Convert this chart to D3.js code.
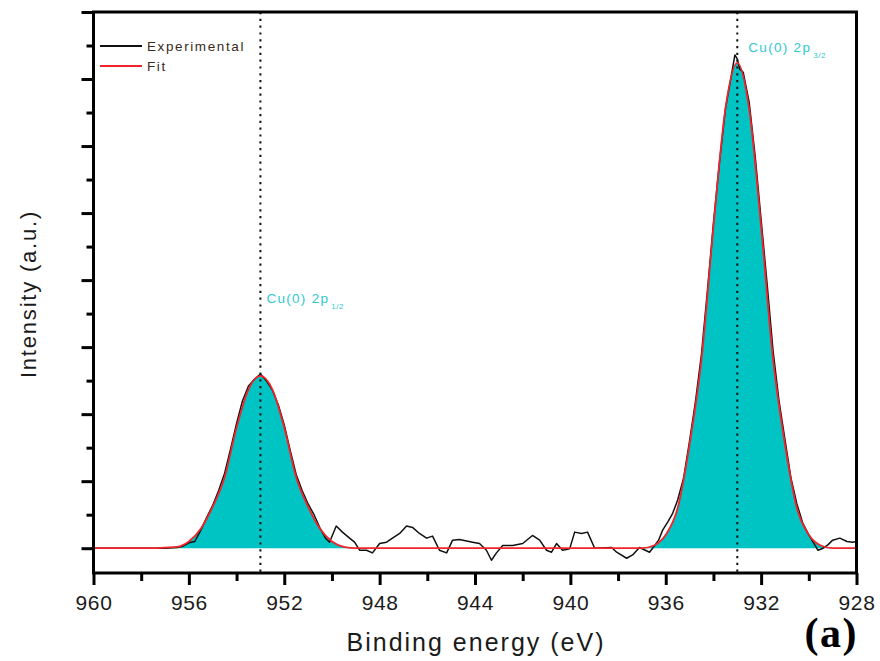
<!DOCTYPE html>
<html>
<head>
<meta charset="utf-8">
<script src="https://cdn.jsdelivr.net/npm/d3@7/dist/d3.min.js"></script>
<style>
  html, body { margin: 0; padding: 0; background: #ffffff; }
  svg { display: block; }
</style>
</head>
<body>
<svg id="chart" width="880" height="661"></svg>
<script>
// Cu 2p XPS spectrum: measured counts and fitted envelope (arbitrary units)
const xMajorTicks = [960, 956, 952, 948, 944, 940, 936, 932, 928];
const xMinorTicks = [958, 954, 950, 946, 942, 938, 934, 930];
const yMajorTicks = [0, 1, 2, 3, 4, 5, 6, 7, 8];
const yMinorTicks = [0.5, 1.5, 2.5, 3.5, 4.5, 5.5, 6.5, 7.5];

const peakCenters = [953, 933];
const peakNames = ["1/2", "3/2"];

const fitEnergy = [960, 957.5, 957, 956.5, 956, 955.5, 955, 954.5, 954, 953.5, 953,
  952.5, 952, 951.5, 951, 950.5, 950, 949.5, 949, 937.5, 937, 936.5, 936, 935.5,
  935, 934.5, 934, 933.5, 933, 932.5, 932, 931.5, 931, 930.5, 930, 929.5, 929, 928.5, 928];
const fitIntensity = [0, 0, 0.01, 0.02, 0.10, 0.29, 0.62, 1.06, 1.80, 2.37, 2.57,
  2.37, 1.80, 1.06, 0.62, 0.29, 0.10, 0.02, 0, 0, 0, 0.04, 0.20, 0.60,
  1.55, 2.82, 4.80, 6.55, 7.24, 6.55, 4.80, 2.82, 1.55, 0.60, 0.20, 0.04, 0, 0, 0];

const expEnergy = [960, 957, 956.5, 956.25, 956, 955.75, 955.5, 955.25, 955, 954.75,
  954.5, 954.25, 954, 953.75, 953.5, 953.25, 953, 952.75, 952.5, 952.25, 952,
  951.75, 951.5, 951.25, 951, 950.75, 950.5, 950.25, 950.1, 949.82, 949.56, 949.26,
  949.05, 948.84, 948.55, 948.3, 948, 947.71, 947.46, 947.16, 946.87, 946.62, 946.33,
  946.03, 945.78, 945.49, 945.19, 944.94, 944.65, 944.1, 943.81, 943.52, 943.31,
  943.1, 942.84, 942.42, 942, 941.59, 941.29, 941, 940.79, 940.58, 940.33, 940.03,
  939.82, 939.53, 939.28, 938.98, 938.27, 938.06, 937.64, 937.39, 937.1, 936.68,
  936.55, 936.3, 936.13, 935.9, 935.71, 935.5, 935.25, 935, 934.75, 934.5, 934.25,
  934, 933.75, 933.5, 933.25, 933.1, 933, 932.9, 932.75, 932.5, 932.25, 932, 931.75,
  931.5, 931.25, 931, 930.75, 930.5, 930.25, 930, 929.8, 929.62, 929.4, 929.2, 929,
  928.7, 928.4, 928.16, 928];
const expIntensity = [0, 0, 0.01, 0.03, 0.08, 0.10, 0.27, 0.46, 0.64, 0.86,
  1.12, 1.48, 1.86, 2.20, 2.42, 2.52, 2.60, 2.50, 2.36, 2.14, 1.84,
  1.46, 1.10, 0.86, 0.66, 0.50, 0.30, 0.14, 0.09, 0.33, 0.24, 0.15,
  0.09, -0.03, -0.03, -0.07, 0.07, 0.09, 0.15, 0.22, 0.33, 0.31, 0.22,
  0.15, 0.18, -0.03, -0.07, 0.12, 0.13, 0.09, 0.07, -0.03, -0.18,
  -0.07, 0.04, 0.04, 0.07, 0.19, 0.12, -0.03, -0.06, 0.07, -0.03, -0.01,
  0.24, 0.22, 0.24, 0.0, 0.01, -0.06, -0.15, -0.10, 0.01, -0.06,
  0.0, 0.12, 0.27, 0.40, 0.52, 0.72, 1.05, 1.60, 2.20, 2.90, 3.85,
  4.85, 5.75, 6.55, 7.05, 7.36, 7.30, 7.15, 7.10, 6.65, 5.85, 4.90, 3.95,
  2.95, 2.20, 1.62, 1.05, 0.66, 0.37, 0.20, 0.08, -0.03, 0.0, 0.05, 0.12,
  0.15, 0.10, 0.09, 0.10];

const legendLabels = ["Experimental", "Fit"];

const svg = d3.select("#chart");
const W = 880, H = 661;
const plot = { left: 93.5, right: 856.5, top: 12, bottom: 573 };

const x = d3.scaleLinear().domain([960, 928]).range([plot.left, plot.right]);
const y = d3.scaleLinear().domain([-0.37, 8]).range([plot.bottom, plot.top]);

const fitData = fitEnergy.map((e, i) => ({ e, v: fitIntensity[i] }));
const expData = expEnergy.map((e, i) => ({ e, v: expIntensity[i] }));

const CYAN = "#00c3c3";
const RED = "#f2232a";
const LABEL = "#2fc9cc";
const INK = "#1b1b1b";

// filled component under the fitted envelope
svg.append("path")
  .datum(fitData)
  .attr("fill", CYAN)
  .attr("d", d3.area().x(d => x(d.e)).y0(y(0)).y1(d => y(d.v)).curve(d3.curveMonotoneX));

// measured spectrum
svg.append("path")
  .datum(expData)
  .attr("fill", "none")
  .attr("stroke", "#111")
  .attr("stroke-width", 1.5)
  .attr("stroke-linejoin", "round")
  .attr("d", d3.line().x(d => x(d.e)).y(d => y(d.v)));

// fitted envelope
svg.append("path")
  .datum(fitData)
  .attr("fill", "none")
  .attr("stroke", RED)
  .attr("stroke-width", 1.8)
  .attr("d", d3.line().x(d => x(d.e)).y(d => y(d.v)).curve(d3.curveMonotoneX));

// peak position markers
svg.selectAll("line.peak")
  .data(peakCenters)
  .join("line")
  .attr("class", "peak")
  .attr("x1", d => x(d)).attr("x2", d => x(d))
  .attr("y1", y(8)).attr("y2", y(-0.37))
  .attr("stroke", "#111")
  .attr("stroke-width", 2)
  .attr("stroke-dasharray", "2.2,4.6");

// peak labels
function peakLabel(px, py, sub) {
  const t = svg.append("text")
    .attr("x", px).attr("y", py)
    .attr("fill", LABEL)
    .attr("font-family", "Liberation Sans, Arial, sans-serif")
    .attr("font-size", 13.5)
    .attr("letter-spacing", 1.3);
  t.append("tspan").text("Cu(0) 2p");
  t.append("tspan").attr("dy", 6).attr("dx", 2).attr("font-size", 8).attr("letter-spacing", 0.5).text(sub);
}
peakLabel(x(peakCenters[1]) + 11, 52, peakNames[1]);
peakLabel(x(peakCenters[0]) + 6, 303, peakNames[0]);

// frame
svg.append("rect")
  .attr("x", plot.left).attr("y", plot.top)
  .attr("width", plot.right - plot.left).attr("height", plot.bottom - plot.top)
  .attr("fill", "none").attr("stroke", "#000").attr("stroke-width", 3);

// bottom axis
const gx = svg.append("g").attr("transform", `translate(0,${plot.bottom})`);
gx.call(d3.axisBottom(x).tickValues(xMajorTicks).tickSize(12).tickPadding(10).tickFormat(d3.format("d")));
const gxm = svg.append("g").attr("transform", `translate(0,${plot.bottom})`);
gxm.call(d3.axisBottom(x).tickValues(xMinorTicks).tickSize(8).tickFormat(""));

// left axis (no labels)
const gy = svg.append("g").attr("transform", `translate(${plot.left},0)`);
gy.call(d3.axisLeft(y).tickValues(yMajorTicks).tickSize(12).tickFormat(""));
const gym = svg.append("g").attr("transform", `translate(${plot.left},0)`);
gym.call(d3.axisLeft(y).tickValues(yMinorTicks).tickSize(7).tickFormat(""));

[gx, gxm, gy, gym].forEach(g => {
  g.select(".domain").remove();
  g.selectAll(".tick line").attr("stroke", "#000").attr("stroke-width", 3);
});
gx.selectAll(".tick text")
  .attr("fill", INK)
  .attr("font-family", "Liberation Sans, Arial, sans-serif")
  .attr("font-size", 21)
  .attr("letter-spacing", 0.6);

// axis titles
svg.append("text")
  .attr("x", 476).attr("y", 651)
  .attr("text-anchor", "middle")
  .attr("fill", INK)
  .attr("font-family", "Liberation Sans, Arial, sans-serif")
  .attr("font-size", 25)
  .attr("letter-spacing", 2)
  .text("Binding energy (eV)");

svg.append("text")
  .attr("transform", "translate(36,294) rotate(-90)")
  .attr("text-anchor", "middle")
  .attr("fill", INK)
  .attr("font-family", "Liberation Sans, Arial, sans-serif")
  .attr("font-size", 22)
  .attr("letter-spacing", 1.8)
  .text("Intensity (a.u.)");

// panel tag
svg.append("text")
  .attr("x", 858).attr("y", 647)
  .attr("text-anchor", "end")
  .attr("fill", "#000")
  .attr("font-family", "Liberation Serif, Times New Roman, serif")
  .attr("font-weight", "bold")
  .attr("font-size", 42)
  .attr("letter-spacing", 1.5)
  .text("(a)");

// legend
const legendColors = ["#111", RED];
const lg = svg.append("g");
legendLabels.forEach((name, i) => {
  const ly = 46 + i * 20;
  lg.append("line")
    .attr("x1", 100).attr("x2", 142).attr("y1", ly).attr("y2", ly)
    .attr("stroke", legendColors[i]).attr("stroke-width", 1.8);
  lg.append("text")
    .attr("x", 147).attr("y", ly + 5)
    .attr("fill", "#3a2a1a")
    .attr("font-family", "Liberation Sans, Arial, sans-serif")
    .attr("font-size", 13.5)
    .attr("letter-spacing", 1.6)
    .text(name);
});
</script>
</body>
</html>
